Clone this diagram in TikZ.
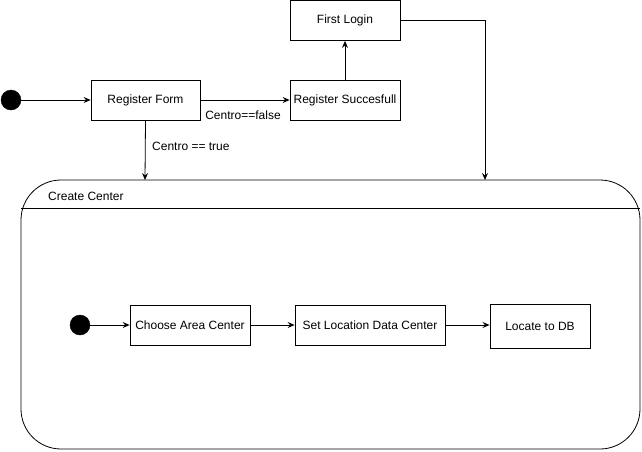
\documentclass[tikz,border=0pt]{standalone}
\usepackage{fontspec}
\setmainfont{Liberation Sans}
\usetikzlibrary{arrows.meta}
\begin{document}
\begin{tikzpicture}[x=1pt,y=-1pt,
  every node/.style={font=\fontsize{12}{14}\selectfont},
  box/.style={draw,line width=0.8pt,rectangle,inner sep=0pt},
  dot/.style={circle,fill=black,draw=black,minimum size=20pt,inner sep=0pt},
  arr/.style={-{Stealth[length=7pt,width=6pt,inset=2.5pt]},line width=0.8pt},
  lbl/.style={inner sep=0pt}]
\useasboundingbox (0,0) rectangle (642,451);
\fill[white] (0,0) rectangle (642,451);
% container
\draw[line width=0.8pt,rounded corners=40pt] (21,180) rectangle (640,449);
\coordinate (cth) at (145,180);
\coordinate (ctf) at (485,180);
\draw[line width=0.8pt] (21,208) -- (640,208);
\node[lbl,anchor=west] (cc) at (48,196) {Create Center};
% top nodes
\node[dot] (s1) at (11,100) {};
\node[box,minimum width=109pt,minimum height=40pt] (rf) at (145.5,100) {Register Form};
\node[box,minimum width=110pt,minimum height=40pt] (rs) at (345,100) {Register Succesfull};
\node[box,minimum width=110pt,minimum height=40pt] (fl) at (345,20.5) {First Login};
\draw[arr] (s1) -- (rf);
\draw[arr] (rf) -- (rs);
\node[lbl] (lf) at (243,115) {Centro==false};
\draw[arr] (rs) -- (fl);
\draw[arr] (rf.south) -- (cth);
\node[lbl,anchor=west] (lt) at (152,146) {Centro == true};
\draw[arr] (fl.east) -| (ctf);
% inner nodes
\node[dot] (s2) at (80,325) {};
\node[box,minimum width=120pt,minimum height=40pt] (ca) at (190,325) {Choose Area Center};
\node[box,minimum width=150pt,minimum height=40pt] (sl) at (370,325) {Set Location Data Center};
\node[box,minimum width=100pt,minimum height=44pt,line width=1pt] (ld) at (540,326) {Locate to DB};
\draw[arr] (s2) -- (ca);
\draw[arr] (ca) -- (sl);
\draw[arr] (sl) -- (sl.east -| ld.west);
\end{tikzpicture}
\end{document}
